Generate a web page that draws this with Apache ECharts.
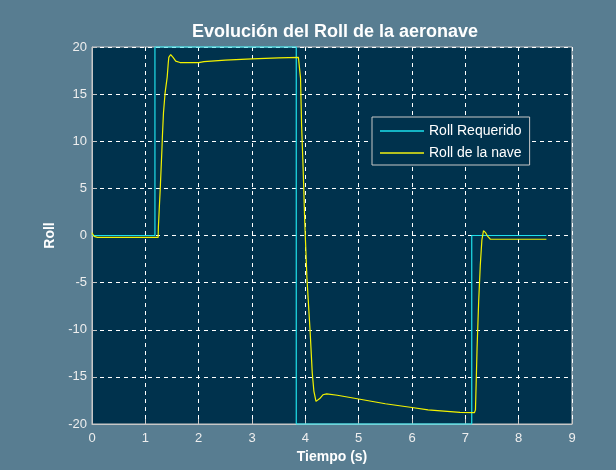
<!DOCTYPE html>
<html><head><meta charset="utf-8">
<script src="https://cdn.jsdelivr.net/npm/echarts@6/dist/echarts.min.js"></script>
<style>html,body{margin:0;padding:0;background:#587d91}#c{width:616px;height:470px}</style>
</head><body><div id="c"></div>
<script>
const titleText = 'Evolución del Roll de la aeronave';
const xName = 'Tiempo (s)';
const yName = 'Roll';
const seriesNames = ['Roll Requerido', 'Roll de la nave'];
const xTicks = [0,1,2,3,4,5,6,7,8,9];
const yTicks = [-20,-15,-10,-5,0,5,10,15,20];

const reqT = [0, 1.18, 1.18, 3.83, 3.83, 7.12, 7.12, 8.52];
const reqV = [0, 0, 20, 20, -20, -20, 0, 0];

const navT = [0, 0.04, 0.1, 1.24, 1.245, 1.26, 1.28, 1.31, 1.32, 1.34, 1.37, 1.41, 1.43, 1.44, 1.475, 1.52, 1.57, 1.65, 2.0, 2.1, 2.5, 3.0, 3.5, 3.87,
  3.91, 3.93, 3.96, 3.99, 4.03, 4.09, 4.13, 4.16, 4.2, 4.27, 4.33, 4.4, 4.6, 5.0, 5.5, 6.0, 6.3, 6.9, 7.17,
  7.19, 7.22, 7.25, 7.28, 7.31, 7.34, 7.38, 7.42, 7.47, 8.52];
const navV = [0.3, -0.1, -0.2, -0.2, 0.9, 2.7, 5.0, 9.0, 10.5, 13, 15.1, 16.8, 18.3, 18.9, 19.2, 18.9, 18.5, 18.35, 18.35, 18.45, 18.6, 18.75, 18.85, 18.9,
  16.7, 11.7, 6.9, 1.3, -4.5, -10.2, -14.6, -16.5, -17.6, -17.3, -16.9, -16.8, -16.95, -17.35, -17.85, -18.25, -18.5, -18.77, -18.8,
  -18.5, -12, -7, -3.2, -0.5, 0.5, 0.3, -0.1, -0.4, -0.4];

const zip = (a, b) => a.map((t, i) => [t, b[i]]);
const font = '"Liberation Sans", Arial, sans-serif';

const chart = echarts.init(document.getElementById('c'));
chart.setOption({
  backgroundColor: '#587d91',
  animation: false,
  title: {
    text: titleText, left: 330, top: 18, textAlign: 'center',
    textStyle: { color: '#ffffff', fontSize: 18, fontWeight: 'bold', fontFamily: font }
  },
  grid: { left: 92, right: 44, top: 47, bottom: 46, show: true, backgroundColor: '#00324d', borderColor: '#c8c8c8', borderWidth: 1 },
  legend: {
    orient: 'vertical', left: 372, top: 117,
    data: seriesNames,
    backgroundColor: '#00324d', borderColor: '#c8c8c8', borderWidth: 1,
    padding: [7, 8, 5, 8], itemGap: 8, itemWidth: 44, itemHeight: 2, icon: 'rect',
    textStyle: { color: '#ffffff', fontSize: 14, fontFamily: font }
  },
  xAxis: {
    type: 'value', min: 0, max: 9, interval: 1,
    name: xName, nameLocation: 'middle', nameGap: 26,
    nameTextStyle: { color: '#ffffff', fontSize: 14, fontWeight: 'bold', fontFamily: font },
    axisLine: { show: true, onZero: false, lineStyle: { color: '#c8c8c8' } },
    axisTick: { show: true, inside: true, length: 5, lineStyle: { color: '#c8c8c8' } },
    axisLabel: { color: '#eeeeee', fontSize: 13, fontFamily: font, margin: 8,
      formatter: v => xTicks.includes(v) ? String(v) : '' },
    splitLine: { show: true, lineStyle: { color: '#ffffff', type: [4, 4], width: 1 } }
  },
  yAxis: {
    type: 'value', min: -20, max: 20, interval: 5,
    name: yName, nameLocation: 'middle', nameGap: 32, nameRotate: 90,
    nameTextStyle: { color: '#ffffff', fontSize: 14, fontWeight: 'bold', fontFamily: font },
    axisLine: { show: true, onZero: false, lineStyle: { color: '#c8c8c8' } },
    axisTick: { show: true, inside: true, length: 5, lineStyle: { color: '#c8c8c8' } },
    axisLabel: { color: '#eeeeee', fontSize: 13, fontFamily: font, margin: 5,
      formatter: v => yTicks.includes(v) ? String(v) : '' },
    splitLine: { show: true, lineStyle: { color: '#ffffff', type: [4, 4], width: 1 } }
  },
  series: [
    { name: seriesNames[0], type: 'line', data: zip(reqT, reqV), showSymbol: false, clip: false,
      lineStyle: { color: '#1ee0ea', width: 1.2 }, itemStyle: { color: '#14b4c4' } },
    { name: seriesNames[1], type: 'line', data: zip(navT, navV), showSymbol: false, clip: false,
      lineStyle: { color: '#f2f200', width: 1.2 }, itemStyle: { color: '#b4c020' } }
  ]
});
</script></body></html>
